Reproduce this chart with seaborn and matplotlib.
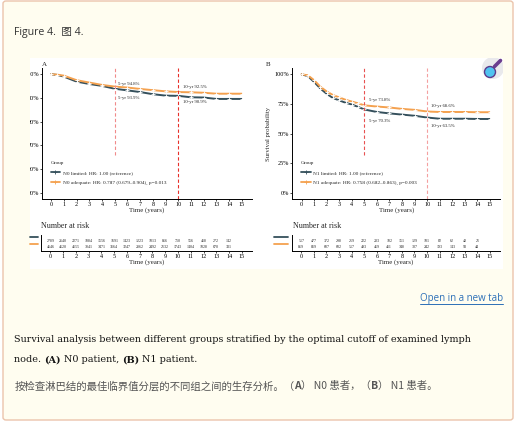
import numpy as np
import pandas as pd
import matplotlib
matplotlib.use("Agg")
import matplotlib.pyplot as plt
import seaborn as sns
from matplotlib.patches import FancyBboxPatch, Rectangle, Ellipse
from matplotlib.lines import Line2D
from matplotlib.ticker import FuncFormatter

# ---- data ----
years_a = [0, 0.5, 1, 2, 3, 4, 5, 6, 7, 8, 9, 10, 11, 12, 13, 14, 15]
n0_limited = [100, 99.7, 99.0, 96.9, 95.9, 95.1, 93.9, 93.2, 92.5, 91.6, 91.0, 90.9, 90.3, 90.2, 89.6, 89.6, 89.6]
n0_adequate = [100, 99.8, 99.4, 97.5, 96.5, 95.5, 94.8, 94.4, 93.8, 93.3, 92.8, 92.5, 92.4, 92.2, 91.8, 91.8, 91.8]

years_b = [0, 0.5, 1, 1.5, 2, 2.5, 3, 3.5, 4, 4.5, 5, 6, 7, 8, 9, 10, 11, 12, 13, 14, 15]
n1_limited = [100, 98.5, 93.5, 88, 83.5, 80, 78, 76, 74.5, 72.5, 70.3, 68.2, 67, 66, 65, 63.5, 62.5, 62.5, 62.5, 62.3, 62.3]
n1_adequate = [100, 99.2, 95, 89.5, 85.5, 82.5, 80.5, 78.5, 77, 75.5, 73.8, 72.8, 72, 70.8, 70, 68.6, 68.2, 68.2, 68.2, 68.0, 68.0]

risk_years = list(range(15))
risk_n0_limited = [2789, 2640, 2271, 1884, 1556, 1691, 1423, 1223, 1013, 856, 710, 556, 418, 272, 142]
risk_n0_adequate = [4646, 4520, 4155, 3841, 3471, 3164, 3247, 2862, 2492, 2132, 1743, 1404, 1028, 670, 331]
risk_n1_limited = [517, 477, 372, 298, 259, 222, 203, 182, 151, 129, 101, 82, 62, 40, 21]
risk_n1_adequate = [859, 819, 687, 602, 517, 493, 459, 411, 348, 307, 242, 193, 143, 93, 44]

labels_a = ["N0 limited: HR: 1.00 (reference)", "N0 adequate: HR: 0.787 (0.679\u20130.904), p=0.013"]
labels_b = ["N1 limited: HR: 1.00 (reference)", "N1 adequate: HR: 0.758 (0.682\u20130.863), p=0.003"]
notes_a = ["5-yr 94.8%", "5-yr 93.9%", "10-yr 92.5%", "10-yr 90.9%"]
notes_b = ["5-yr 73.8%", "5-yr 70.3%", "10-yr 68.6%", "10-yr 63.5%"]

TEAL = "#35505c"
ORANGE = "#f4a14f"

sns.set_style("ticks")
plt.rcParams["font.family"] = ["Liberation Serif", "DejaVu Serif"]

W, H = 518, 422
fig = plt.figure(figsize=(W / 100, H / 100), dpi=100)
fig.patch.set_facecolor("white")


def fx(x):
    return x / W


def fy(y):
    return 1 - y / H


def px_axes(l, t, r, b):
    return fig.add_axes([fx(l), fy(b), (r - l) / W, (b - t) / H])


# page box and white figure area (kept behind the axes)
fig.patches.append(FancyBboxPatch((fx(3), fy(420)), 510 / W, 419 / H,
                                  boxstyle="round,pad=0,rounding_size=0.006",
                                  transform=fig.transFigure, fc="#fffdf0", ec="#ebc4ac", lw=1,
                                  zorder=-20))
white = Rectangle((fx(30), fy(269)), 473 / W, 211 / H, transform=fig.transFigure,
                  fc="white", ec="none", zorder=-19)
fig.patches.append(white)


def style_axis(ax):
    for s in ["top", "right"]:
        ax.spines[s].set_visible(False)
    for s in ["left", "bottom"]:
        ax.spines[s].set_linewidth(0.7)
        ax.spines[s].set_color("black")
    ax.tick_params(length=1.5, width=0.5, pad=1, labelsize=4.4, colors="black")
    ax.set_facecolor("none")


def km_panel(ax, years, limited, adequate, labels, ylim, yticks, notes, note_pos, vcols):
    df = pd.DataFrame({
        "time": years + years,
        "surv": limited + adequate,
        "group": [labels[0]] * len(years) + [labels[1]] * len(years),
    })
    sns.lineplot(data=df, x="time", y="surv", hue="group", palette=[TEAL, ORANGE],
                 marker="+", markersize=3, markeredgewidth=0.6, linewidth=1.4,
                 legend=False, ax=ax)
    ax.axvline(5, ymin=0.336, ymax=1, color=vcols[0], ls=(0, (3, 2)), lw=0.8)
    ax.axvline(10, ymin=0, ymax=1, color=vcols[1], ls=(0, (3, 2)), lw=0.8)
    for txt, (x, y) in zip(notes, note_pos):
        ax.text(x, y, txt, fontsize=3.4, va="center", ha="left")
    ax.set_xlim(-0.74, 15.8)
    ax.set_ylim(*ylim)
    ax.set_xticks(range(16))
    ax.set_yticks(yticks)
    ax.yaxis.set_major_formatter(FuncFormatter(lambda v, p: f"{v:.0f}%"))
    ax.set_xlabel("Time (years)", fontsize=5, labelpad=0)
    style_axis(ax)
    handles = [Line2D([], [], color=c, lw=1.3, marker="+", ms=3, mew=0.6) for c in [TEAL, ORANGE]]
    ax.legend(handles, labels, title="Group", loc="upper left", bbox_to_anchor=(0.03, 0.31),
              frameon=False, fontsize=3.8, title_fontsize=3.8, handlelength=1.8,
              handletextpad=0.5, labelspacing=1.0, borderpad=0, alignment="left")


def risk_table(ax, limited, adequate):
    for row, vals in enumerate([limited, adequate]):
        for x, n in zip(risk_years, vals):
            ax.text(x, row, str(n), fontsize=2.9, ha="center", va="center")
    ax.set_xlim(-0.74, 15.8)
    ax.set_ylim(1.73, -1.18)
    ax.set_xticks(range(16))
    ax.set_yticks([])
    ax.set_xlabel("Time (years)", fontsize=5, labelpad=0)
    style_axis(ax)


# panel A
ax_a = px_axes(41.7, 68.3, 252, 199)
km_panel(ax_a, years_a, n0_limited, n0_adequate, labels_a, (47.47, 102.5), range(50, 101, 10),
         notes_a, [(5.23, 95.7), (5.23, 90.1), (10.4, 94.6), (10.4, 88.2)], ["#f08a8a", "#e8302a"])
ax_a.set_ylabel("")
ax_a.tick_params(axis="y", pad=0.4)
fig.text(fx(44), fy(65), "A", fontsize=5, va="center", ha="center")

# panel B
ax_b = px_axes(292.3, 68.3, 500, 199)
km_panel(ax_b, years_b, n1_limited, n1_adequate, labels_b, (-5.3, 105.1), range(0, 101, 25),
         notes_b, [(5.38, 78.3), (5.38, 60.8), (10.3, 73.2), (10.3, 56.3)], ["#e85050", "#f4a0a0"])
ax_b.set_ylabel("Survival probability", fontsize=4.8, labelpad=2)
fig.text(fx(268), fy(65), "B", fontsize=5, va="center", ha="center")

# number at risk tables
rt_a = px_axes(41, 235, 252, 251)
risk_table(rt_a, risk_n0_limited, risk_n0_adequate)
rt_b = px_axes(292, 235, 500, 251)
risk_table(rt_b, risk_n1_limited, risk_n1_adequate)
fig.text(fx(41), fy(226), "Number at risk", fontsize=5.8, va="center", ha="left")
fig.text(fx(293), fy(226), "Number at risk", fontsize=5.8, va="center", ha="left")
for x0, x1 in [(30, 38), (274, 288)]:
    fig.add_artist(Line2D([fx(x0), fx(x1)], [fy(236.7)] * 2, color=TEAL, lw=1.3, transform=fig.transFigure))
    fig.add_artist(Line2D([fx(x0), fx(x1)], [fy(244)] * 2, color=ORANGE, lw=1.3, transform=fig.transFigure))

# magnifier icon
bg = Ellipse((fx(493), fy(68)), 22 / W, 22 / H, transform=fig.transFigure, fc="#e9e9ec", ec="none",
             zorder=5)
fig.patches.append(bg)
bg.set_clip_path(white)
fig.add_artist(Line2D([fx(494.5), fx(500.5)], [fy(66.5), fy(60.5)], color="#6a3d8f", lw=2.6,
                      solid_capstyle="round", transform=fig.transFigure, zorder=6))
fig.patches.append(Ellipse((fx(490), fy(72)), 11 / W, 11 / H, transform=fig.transFigure,
                           fc="#4fc3f0", ec="#5b3a8c", lw=1, zorder=7))

# page texts
fig.text(fx(14.5), fy(33), "Figure 4.  \u56fe 4.", fontsize=7.6, color="#333333", va="center", ha="left",
         family=["Open Sans", "Noto Sans CJK SC"])
link = fig.text(fx(503), fy(299), "Open in a new tab", fontsize=7, color="#2c6fb7", va="center",
                ha="right", family=["Open Sans"])

renderer = fig.canvas.get_renderer()
bb = link.get_window_extent(renderer)
fig.add_artist(Line2D([bb.x0 / W, bb.x1 / W], [(bb.y0 + 0.5) / H] * 2, color="#2c6fb7", lw=0.7,
                      transform=fig.transFigure))

# the figure image is cropped on the left: clip panel A's y tick labels to it
for lbl in ax_a.get_yticklabels():
    lbl.set_clip_on(True)
    lbl.set_clip_path(white)


def text_runs(x, y, parts, **kw):
    for s, weight in parts:
        t = fig.text(fx(x), fy(y), s, va="center", ha="left", fontweight=weight, **kw)
        x += t.get_window_extent(renderer).width


cap_kw = dict(fontsize=6.9, color="#141414", family=["DejaVu Serif"])
fig.text(fx(14.3), fy(340), "Survival analysis between different groups stratified by the optimal cutoff of examined lymph",
         va="center", ha="left", **cap_kw)
text_runs(14.3, 360, [("node. ", "normal"), ("(A)", "bold"), (" N0 patient, ", "normal"),
                      ("(B)", "bold"), (" N1 patient.", "normal")], **cap_kw)
zh_kw = dict(fontsize=7.5, color="#555555", family=["Noto Sans CJK SC", "DejaVu Serif"])
text_runs(14.3, 386, [("按检查淋巴结的最佳临界值分层的不同组之间的生存分析。（", "normal"), ("A", "bold"),
                      ("） N0 患者，（", "normal"), ("B", "bold"), ("） N1 患者。", "normal")], **zh_kw)

fig.savefig("out.png", dpi=100, facecolor=fig.get_facecolor())
